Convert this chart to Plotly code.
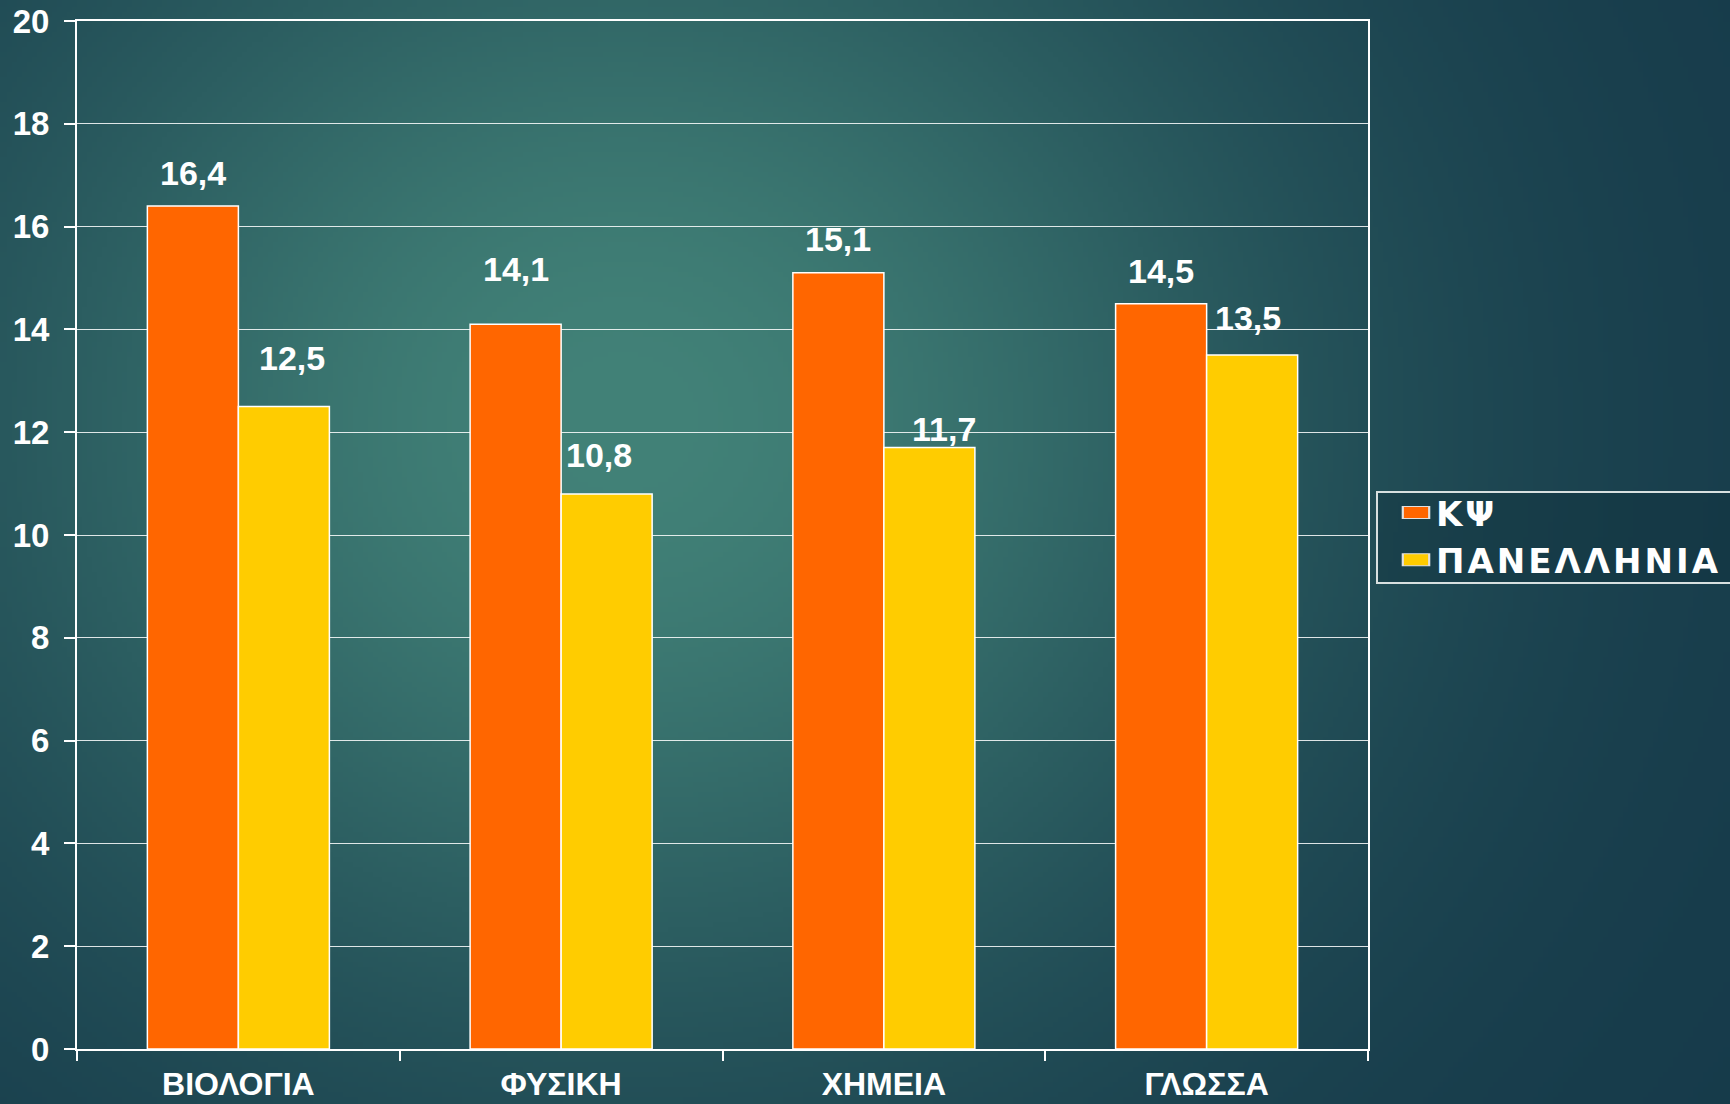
"""Grade comparison bar chart: KΨ vs national (ΠΑΝΕΛΛΗΝΙΑ) averages."""
import base64
import struct
import zlib

import numpy as np
import plotly.graph_objects as go

# Data
subjects = ["ΒΙΟΛΟΓΙΑ", "ΦΥΣΙΚΗ", "ΧΗΜΕΙΑ", "ΓΛΩΣΣΑ"]
kps_values = [16.4, 14.1, 15.1, 14.5]
national_values = [12.5, 10.8, 11.7, 13.5]
series_names = ["ΚΨ", "ΠΑΝΕΛΛΗΝΙΑ"]
y_ticks = [0, 2, 4, 6, 8, 10, 12, 14, 16, 18, 20]

# Label nudges (pixels) to follow the hand-placed labels of the original
kps_label_shift = [(0, 12), (0, 34), (0, 13), (0, 12)]
national_label_shift = [(8, 28), (-8, 18), (15, -2), (-4, 16)]

W, H = 1730, 1104
MARGIN = dict(l=77, r=362, t=21, b=55)
BARGAP = 0.436
FONT = "Liberation Sans, Arial, sans-serif"
LEGEND_FONT = "DejaVu Sans, Liberation Sans, sans-serif"
ORANGE = "#ff6600"
YELLOW = "#ffcc00"

plot_w = W - MARGIN["l"] - MARGIN["r"]
plot_h = H - MARGIN["t"] - MARGIN["b"]


def px_x(px):
    return (px - MARGIN["l"]) / plot_w


def px_y(px):
    return (H - MARGIN["b"] - px) / plot_h


def gradient_png(w=346, h=221):
    """Radial teal glow used as slide background."""
    yy, xx = np.mgrid[0:h, 0:w]
    cx, cy = 620 / W * w, 420 / H * h
    d2 = ((xx - cx) / (760 / W * w)) ** 2 + ((yy - cy) / (700 / H * h)) ** 2
    f = np.exp(-d2 * 1.3)[..., None]
    edge = np.array([22, 58, 74], float)
    centre = np.array([66, 130, 120], float)
    img = (edge + (centre - edge) * f).clip(0, 255).astype(np.uint8)
    raw = b"".join(b"\x00" + img[r].tobytes() for r in range(h))

    def chunk(tag, data):
        c = struct.pack(">I", len(data)) + tag + data
        return c + struct.pack(">I", zlib.crc32(tag + data) & 0xFFFFFFFF)

    png = (b"\x89PNG\r\n\x1a\n"
           + chunk(b"IHDR", struct.pack(">IIBBBBB", w, h, 8, 2, 0, 0, 0))
           + chunk(b"IDAT", zlib.compress(raw, 9))
           + chunk(b"IEND", b""))
    return "data:image/png;base64," + base64.b64encode(png).decode()


fig = go.Figure()

for name, vals, color in [(series_names[0], kps_values, ORANGE),
                          (series_names[1], national_values, YELLOW)]:
    fig.add_trace(go.Bar(
        x=subjects,
        y=vals,
        name=name,
        legendgroup=name,
        marker=dict(color=color, line=dict(color="white", width=1.5)),
        hovertemplate="%{x}: %{y}<extra>" + name + "</extra>",
    ))

# Value labels above the bars
half = (1 - BARGAP) / 4
for offset, vals, shifts in [(-half, kps_values, kps_label_shift),
                             (half, national_values, national_label_shift)]:
    for i, (v, (dx, dy)) in enumerate(zip(vals, shifts)):
        fig.add_annotation(
            x=i + offset, y=v,
            text=f"{v:.1f}".replace(".", ","),
            showarrow=False, yanchor="bottom",
            xshift=dx, yshift=dy,
            font=dict(family=FONT, size=34, color="white", weight="bold"),
        )

fig.add_layout_image(
    source=gradient_png(),
    xref="paper", yref="paper",
    x=px_x(0), y=px_y(0),
    sizex=W / plot_w, sizey=H / plot_h,
    xanchor="left", yanchor="top",
    sizing="stretch", layer="below",
)

# Legend frame (runs off the right edge like the original slide)
fig.add_shape(
    type="rect", xref="paper", yref="paper",
    x0=px_x(1377), x1=px_x(W + 20), y0=px_y(583), y1=px_y(492),
    line=dict(color="#d8e0e0", width=2),
    fillcolor="rgba(15,45,58,0.35)",
    layer="above",
)

fig.update_layout(
    width=W, height=H,
    margin=dict(**MARGIN, pad=0),
    paper_bgcolor="#1d4a55",
    plot_bgcolor="rgba(0,0,0,0)",
    barmode="group",
    bargap=BARGAP,
    bargroupgap=0,
    separators=",.",
    font=dict(family=FONT, color="white"),
    showlegend=True,
    legend=dict(
        x=px_x(1396), y=px_y(484), xanchor="left", yanchor="top",
        bgcolor="rgba(0,0,0,0)", borderwidth=0,
        font=dict(family=LEGEND_FONT, size=34, color="white", weight="bold"),
        tracegroupgap=11,
        traceorder="normal",
    ),
    xaxis=dict(
        type="category",
        tickson="boundaries",
        automargin=False,
        ticks="outside", ticklen=10, tickwidth=1.5, tickcolor="white",
        showline=True, linecolor="white", linewidth=2, mirror=True,
        showgrid=False,
        ticklabelstandoff=6,
        tickfont=dict(family=FONT, size=32, color="white", weight="bold"),
    ),
    yaxis=dict(
        range=[0, 20],
        tickvals=y_ticks,
        automargin=False,
        ticks="outside", ticklen=11, tickwidth=1.5, tickcolor="white",
        showline=True, linecolor="white", linewidth=2, mirror=True,
        showgrid=True, gridcolor="rgba(255,255,255,0.85)", gridwidth=1,
        zeroline=False,
        ticklabelstandoff=8,
        tickfont=dict(family=FONT, size=33, color="white", weight="bold"),
    ),
)

# Page tweaks: no body margin, wide legend lettering and wide legend swatches
css = (
    ".legendtext{letter-spacing:3px;}"
    ".legend .scrollbox{clip-path:none !important;}"
    ".legendpoints path{transform-box:fill-box;transform-origin:center;"
    "transform:translateX(20px) scaleX(2.2);"
    "stroke:#e0e0e0 !important;stroke-width:1px !important;}"
)
fig.write_html(
    "out.html",
    config=dict(displayModeBar=False),
    post_script=(
        "document.body.style.margin='0';"
        "document.body.style.overflow='hidden';"
        "var s=document.createElement('style');"
        f"s.textContent='{css}';"
        "document.head.appendChild(s);"
    ),
)
